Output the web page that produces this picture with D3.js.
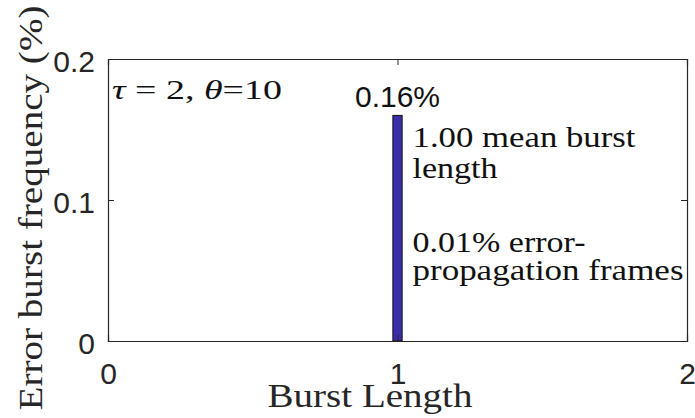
<!DOCTYPE html>
<html>
<head>
<meta charset="utf-8">
<script src="https://cdn.jsdelivr.net/npm/d3@7"></script>
<style>
  body { margin: 0; background: #fff; }
  svg { display: block; }
</style>
</head>
<body>
<script>
// data
var burstLengths = [1];
var frequencies = [0.16];
var barLabels = ["0.16%"];
var xTicks = [0, 1, 2];
var yTicks = [0, 0.1, 0.2];
var noteLines = ["1.00 mean burst", "length", "0.01% error-", "propagation frames"];

var W = 695, H = 418;
var margin = {top: 59, right: 8, bottom: 77, left: 108},
    width = W - margin.left - margin.right,
    height = H - margin.top - margin.bottom;

var ink = "#262626";
var sans = "'Liberation Sans', Arial, sans-serif";
var serif = "'Liberation Serif', 'Times New Roman', serif";

var svg = d3.select("body").append("svg")
    .attr("width", W)
    .attr("height", H);

var g = svg.append("g")
    .attr("transform", "translate(" + margin.left + "," + margin.top + ")");

var x = d3.scaleLinear().domain([0, 2]).range([0, width]);
var y = d3.scaleLinear().domain([0, 0.2]).range([height, 0]);

// bars
var barW = x(0.032) - x(0);
g.selectAll(".bar")
    .data(burstLengths)
    .enter().append("rect")
    .attr("class", "bar")
    .attr("x", function(d) { return x(d) - barW / 2; })
    .attr("y", function(d, i) { return y(frequencies[i]); })
    .attr("width", barW)
    .attr("height", function(d, i) { return height - y(frequencies[i]); })
    .attr("fill", "#3b2daa")
    .attr("stroke", "#111")
    .attr("stroke-width", 1);

// axes (matlab style: ticks inward, box)
var tickLen = 6;
var xAxis = g.append("g").attr("transform", "translate(0," + height + ")")
    .call(d3.axisBottom(x).tickValues(xTicks).tickSize(-tickLen).tickPadding(22).tickFormat(d3.format("d")));
var yAxis = g.append("g")
    .call(d3.axisLeft(y).tickValues(yTicks).tickSize(-tickLen).tickPadding(13).tickFormat(function(d) { return d === 0 ? "0" : d3.format(".1f")(d); }));
var xTop = g.append("g")
    .call(d3.axisTop(x).tickValues(xTicks).tickSize(-tickLen).tickFormat(""));
var yRight = g.append("g").attr("transform", "translate(" + width + ",0)")
    .call(d3.axisRight(y).tickValues(yTicks).tickSize(-tickLen).tickFormat(""));

[xAxis, yAxis, xTop, yRight].forEach(function(a) {
    a.select(".domain").attr("stroke", ink).attr("stroke-width", 1.2);
    a.selectAll(".tick line").attr("stroke", ink).attr("stroke-width", 1);
    a.selectAll("text").attr("fill", ink).style("font-family", sans).style("font-size", "30px");
});
xAxis.selectAll(".tick text").attr("dy", "0.71em");
yAxis.selectAll(".tick text").attr("dy", "0.42em");

// value label above the bar
g.selectAll(".bar-label")
    .data(burstLengths)
    .enter().append("text")
    .attr("x", function(d) { return x(d); })
    .attr("y", function(d, i) { return y(frequencies[i]) - 8; })
    .attr("text-anchor", "middle")
    .attr("fill", "#111")
    .style("font-family", sans)
    .style("font-size", "30px")
    .text(function(d, i) { return barLabels[i]; });

// notes next to the bar (widths stretched toward the LaTeX font)
var noteY = [147, 178, 252, 280];
var noteLen = [223, 85, 173, 271];
g.selectAll(".note")
    .data(noteLines)
    .enter().append("text")
    .attr("x", x(1) + 15)
    .attr("y", function(d, i) { return noteY[i] - margin.top; })
    .attr("textLength", function(d, i) { return noteLen[i]; })
    .attr("lengthAdjust", "spacingAndGlyphs")
    .attr("fill", "#111")
    .style("font-family", serif)
    .style("font-size", "30px")
    .text(function(d) { return d; });

// parameter text
var param = g.append("text")
    .attr("x", 4)
    .attr("y", 99 - margin.top)
    .attr("textLength", 170)
    .attr("lengthAdjust", "spacingAndGlyphs")
    .attr("fill", "#111")
    .style("font-family", serif)
    .style("font-size", "28px");
param.append("tspan").style("font-style", "italic").text("τ");
param.append("tspan").text(" = 2, ");
param.append("tspan").style("font-style", "italic").text("θ");
param.append("tspan").text("=10");

// axis titles
svg.append("text")
    .attr("x", 370)
    .attr("y", 407)
    .attr("text-anchor", "middle")
    .attr("textLength", 205)
    .attr("lengthAdjust", "spacingAndGlyphs")
    .attr("fill", ink)
    .style("font-family", serif)
    .style("font-size", "34px")
    .text("Burst Length");

svg.append("text")
    .attr("transform", "translate(42," + 208 + ") rotate(-90)")
    .attr("text-anchor", "middle")
    .attr("textLength", 405)
    .attr("lengthAdjust", "spacingAndGlyphs")
    .attr("fill", ink)
    .style("font-family", serif)
    .style("font-size", "34px")
    .text("Error burst frequency (%)");
</script>
</body>
</html>
